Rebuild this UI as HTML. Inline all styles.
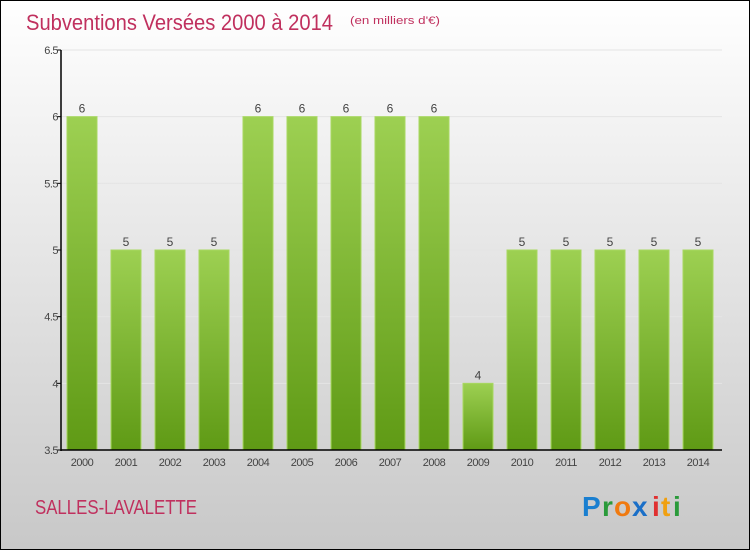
<!DOCTYPE html>
<html><head><meta charset="utf-8"><style>
body{margin:0;width:750px;height:550px;overflow:hidden;font-family:"Liberation Sans",sans-serif}
</style></head><body>
<svg width="750" height="550" xmlns="http://www.w3.org/2000/svg">
<defs>
<linearGradient id="bg" x1="0" y1="0" x2="0" y2="1"><stop offset="0" stop-color="#ffffff"/><stop offset="1" stop-color="#c8c8c8"/></linearGradient>
<linearGradient id="bar" x1="0" y1="0" x2="0" y2="1"><stop offset="0" stop-color="#9dd052"/><stop offset="1" stop-color="#5f9a15"/></linearGradient>
</defs>
<rect x="0.5" y="0.5" width="749" height="549" fill="url(#bg)" stroke="#000"/>
<text x="26" y="30" font-size="22" fill="#c0305e" textLength="307" lengthAdjust="spacingAndGlyphs">Subventions Versées 2000 à 2014</text>
<text x="350" y="24" font-size="11" fill="#c0305e" textLength="90" lengthAdjust="spacingAndGlyphs">(en milliers d'€)</text>
<g id="grid"></g><g id="bars"></g><g id="axes"></g>
<text x="35" y="514" font-size="20" fill="#c0305e" textLength="162" lengthAdjust="spacingAndGlyphs">SALLES-LAVALETTE</text>
<g font-size="28" font-weight="bold">
<text x="582" y="516" fill="#1a7fd0">P</text><text x="602" y="516" fill="#2a9a3a">r</text><text x="614" y="516" fill="#f07a10">o</text><text x="632" y="516" fill="#1a6fc8">x</text><text x="652" y="516" fill="#e03030">i</text><text x="661" y="516" fill="#f0a010">t</text><text x="673" y="516" fill="#2a9a3a">i</text>
</g>
</svg>
<script>
const categories=["2000","2001","2002","2003","2004","2005","2006","2007","2008","2009","2010","2011","2012","2013","2014"];
const values=[6,5,5,5,6,6,6,6,6,4,5,5,5,5,5];
const yTicks=[3.5,4,4.5,5,5.5,6,6.5];
const yTickLabels=["3.5","4","4.5","5","5.5","6","6.5"];
const NS="http://www.w3.org/2000/svg";
const yMin=3.5,yMax=6.5,plotTop=50,plotBot=450,x0=61,x1=722;
const y=v=>plotBot-(v-yMin)/(yMax-yMin)*(plotBot-plotTop);
const step=44,first=82,bw=30;
const x=i=>first+i*step;
function mk(t,a,p){const e=document.createElementNS(NS,t);for(const k in a)e.setAttribute(k,a[k]);p.appendChild(e);return e;}
const grid=document.getElementById('grid'),bars=document.getElementById('bars'),axes=document.getElementById('axes');
yTicks.forEach((t,i)=>{
 const g=mk('line',{x1:x0,x2:x1,y1:y(t),y2:y(t),stroke:'#e4e4e4'},grid);
 
 
 const tk=mk('line',{x1:x0-4,x2:x0,y1:y(t),y2:y(t),stroke:'#000'},axes);
 
 
 const l=mk('text',{x:x0-3,y:y(t)+4,'font-size':11,fill:'#444','text-anchor':'end','letter-spacing':'-0.5'},axes);
 l.textContent=yTickLabels[i];
 
 
});
categories.forEach((c,i)=>{
 const r=mk('rect',{x:x(i)-bw/2,y:y(values[i]),width:bw,height:plotBot-y(values[i]),fill:'url(#bar)',stroke:'#a8d860','stroke-width':1},bars);
 
 
 const v=mk('text',{x:x(i),y:y(values[i])-4,'font-size':12,fill:'#444','text-anchor':'middle'},bars);
 v.textContent=values[i];
 
 
 const l=mk('text',{x:x(i),y:466,'font-size':11,fill:'#444','text-anchor':'middle','letter-spacing':'-0.5'},axes);
 l.textContent=c;
 
 
});
const ya=mk('line',{x1:x0,x2:x0,y1:plotTop,y2:plotBot+1,stroke:'#000','stroke-width':1.5},axes);


const xa=mk('line',{x1:x0,x2:x1,y1:plotBot,y2:plotBot,stroke:'#000','stroke-width':1.5},axes);


</script>
</body></html>
